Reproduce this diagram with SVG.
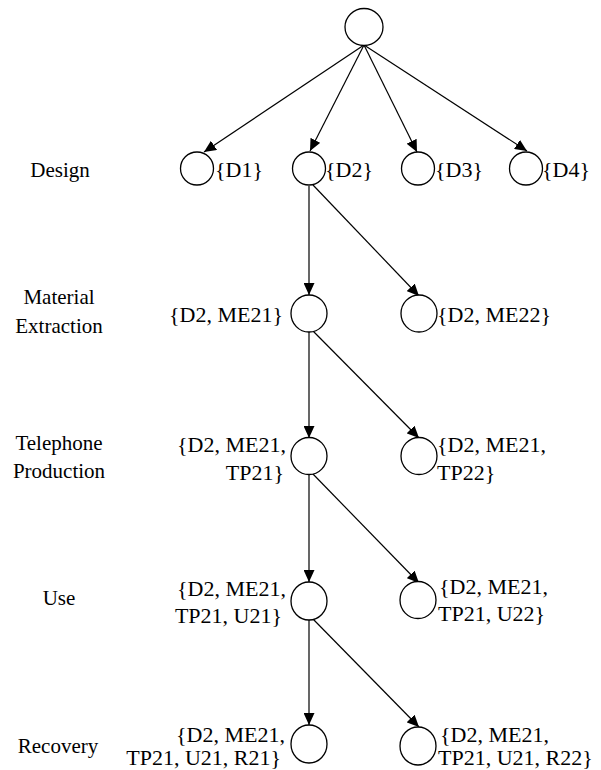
<svg xmlns="http://www.w3.org/2000/svg" width="601" height="770" viewBox="0 0 601 770">
<defs>
<marker id="ah" markerUnits="userSpaceOnUse" markerWidth="12" markerHeight="11" refX="12" refY="5.5" orient="auto">
<path d="M0,0 L12,5.5 L0,11 z" fill="#000"/>
</marker>
<style>
.n{fill:#fff;stroke:#000;stroke-width:1.3}
.e{fill:none;stroke:#000;stroke-width:1.2;marker-end:url(#ah)}
text{font-family:'Liberation Serif','DejaVu Serif','Times New Roman',Times,serif}
.lab{font-size:21px;fill:#000;text-anchor:middle}
.set{font-size:22px;fill:#000}
.r{text-anchor:end}
</style>
</defs>
<rect width="601" height="770" fill="#fff"/>
<g id="connectors">
<path class="e" d="M364,45 L204,152"/>
<path class="e" d="M364,45 L310,151"/>
<path class="e" d="M364,45 L417,152"/>
<path class="e" d="M364,45 L527,151"/>
<path class="e" d="M309,186 L309,295"/>
<path class="e" d="M313,185 L419,296"/>
<path class="e" d="M309,332 L309,438"/>
<path class="e" d="M313,331 L419,438"/>
<path class="e" d="M309,474 L309,582"/>
<path class="e" d="M312,473 L419,583"/>
<path class="e" d="M309,620 L309,725"/>
<path class="e" d="M312,618 L419,727"/>
</g>
<g id="labels">
<text class="lab" x="60" y="177">Design</text>
<text class="lab" x="59" y="304">Material</text>
<text class="lab" x="59" y="333">Extraction</text>
<text class="lab" x="59" y="450">Telephone</text>
<text class="lab" x="59" y="478">Production</text>
<text class="lab" x="59" y="605">Use</text>
<text class="lab" x="58" y="753">Recovery</text>
</g>
<g id="root"><ellipse class="n" cx="364" cy="27" rx="19" ry="18.5"/></g>
<g id="d1"><ellipse class="n" cx="197" cy="168.5" rx="16.5" ry="16.5"/><text class="set" x="215" y="177">{D1}</text></g>
<g id="d2"><ellipse class="n" cx="309" cy="168.5" rx="16.5" ry="16.5"/><text class="set" x="325" y="177">{D2}</text></g>
<g id="d3"><ellipse class="n" cx="418" cy="168.5" rx="16.5" ry="16.5"/><text class="set" x="435" y="177">{D3}</text></g>
<g id="d4"><ellipse class="n" cx="526" cy="168.5" rx="16.5" ry="16.5"/><text class="set" x="542" y="177">{D4}</text></g>
<g id="me21"><ellipse class="n" cx="309" cy="313.5" rx="18" ry="18.5"/><text class="set r" x="283" y="322">{D2, ME21}</text></g>
<g id="me22"><ellipse class="n" cx="419" cy="313.5" rx="18" ry="18.5"/><text class="set" x="437" y="322">{D2, ME22}</text></g>
<g id="tp21"><ellipse class="n" cx="309" cy="456" rx="18" ry="18.5"/><text class="set r" x="286" y="452">{D2, ME21,</text><text class="set r" x="284" y="480">TP21}</text></g>
<g id="tp22"><ellipse class="n" cx="419" cy="456" rx="18" ry="18.5"/><text class="set" x="437" y="452">{D2, ME21,</text><text class="set" x="437" y="480">TP22}</text></g>
<g id="u21"><ellipse class="n" cx="309" cy="601" rx="18" ry="19"/><text class="set r" x="286" y="596">{D2, ME21,</text><text class="set r" x="282" y="623">TP21, U21}</text></g>
<g id="u22"><ellipse class="n" cx="418" cy="600" rx="18" ry="18.5"/><text class="set" x="439" y="594">{D2, ME21,</text><text class="set" x="438" y="621">TP21, U22}</text></g>
<g id="r21"><ellipse class="n" cx="309" cy="744" rx="18" ry="19"/><text class="set r" x="285" y="742">{D2, ME21,</text><text class="set r" x="281" y="765">TP21, U21, R21}</text></g>
<g id="r22"><ellipse class="n" cx="418" cy="746" rx="18" ry="19"/><text class="set" x="440" y="742">{D2, ME21,</text><text class="set" x="438" y="765">TP21, U21, R22}</text></g>
</svg>
